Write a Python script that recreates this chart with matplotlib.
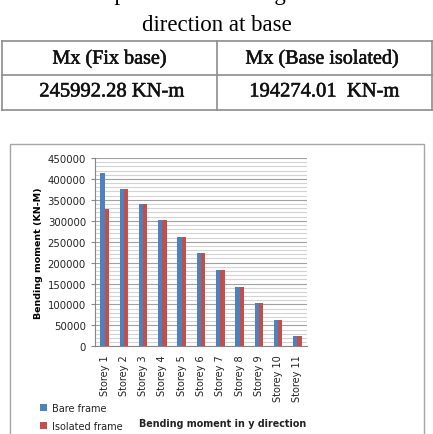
import numpy as np
import matplotlib
matplotlib.use("Agg")
import matplotlib.pyplot as plt
import matplotlib.patheffects as pe
from matplotlib.patches import Rectangle
from matplotlib.lines import Line2D

W, H = 433, 435

storeys = ["Storey 1", "Storey 2", "Storey 3", "Storey 4", "Storey 5", "Storey 6",
           "Storey 7", "Storey 8", "Storey 9", "Storey 10", "Storey 11"]
bare_frame = [414000, 377000, 339000, 301000, 261000, 222000,
              182000, 141000, 103500, 63000, 25000]
isolated_frame = [328000, 377000, 339000, 301000, 261000, 222000,
                  182000, 141000, 103500, 63000, 25000]

table_header = ["Mx (Fix base)", "Mx (Base isolated)"]
table_values = ["245992.28 KN-m", "194274.01  KN-m"]


def fx(px):
    return px / W


def fy(py):
    return 1 - py / H


fig = plt.figure(figsize=(W / 100, H / 100), dpi=100)

# text above the table (previous line is mostly cut off in the source)
fig.text(fx(218), fy(0), "Comparison of bending moment", ha="center", va="baseline",
         family="Liberation Serif", fontsize=16.5)
fig.text(fx(217), fy(31), "direction at base", ha="center", va="baseline",
         family="Liberation Serif", fontsize=16.5)

# table
tcol = "#8c8c8c"
x0, x1, xm = 2, 432, 217
ys = [42, 76, 111]
for y in ys:
    fig.add_artist(Line2D([fx(x0), fx(x1)], [fy(y), fy(y)], color=tcol, lw=1.2))
for x in [x0, xm, x1]:
    fig.add_artist(Line2D([fx(x), fx(x)], [fy(ys[0]), fy(ys[-1])], color=tcol, lw=1.2))
cx = [109.5, 322]
thick = [pe.withStroke(linewidth=0.4, foreground="#111111")]
for i in range(2):
    fig.text(fx(cx[i]), fy(60), table_header[i], ha="center", va="center", color="#111111",
             family="Liberation Serif", fontsize=14.5, path_effects=thick)
    fig.text(fx(cx[i] + 2), fy(93), table_values[i], ha="center", va="center", color="#111111",
             family="Liberation Serif", fontsize=14.8, path_effects=thick)

# chart border
fig.add_artist(Rectangle((fx(10), fy(445)), fx(424) - fx(10), fy(145) - fy(445),
                         transform=fig.transFigure, fill=False, ec="#a6a6a6", lw=1))

ax = fig.add_axes([fx(95), fy(347.3), fx(307) - fx(95), fy(159) - fy(347.3)])
x = np.arange(len(storeys))
w = 0.22
ax.bar(x - w / 2, bare_frame, w, color="#4f81bd", label="Bare frame", zorder=3)
ax.bar(x + w / 2, isolated_frame, w, color="#c0504d", label="Isolated frame", zorder=3)

ax.set_xlim(-0.5, len(storeys) - 0.5)
ax.set_ylim(0, 450000)
ax.set_yticks(np.arange(0, 450001, 50000))
ax.set_yticks(np.arange(0, 450001, 10000), minor=True)
ax.grid(axis="y", which="major", color="#a0a0a0", lw=0.8, zorder=0)
ax.grid(axis="y", which="minor", color="#d3d3d3", lw=0.8, zorder=0)
ax.set_xticks(x)
ax.set_xticklabels(storeys, rotation=90, fontsize=7, color="#222222")
ax.tick_params(axis="y", labelsize=7.3, labelcolor="#222222", length=3, color="#868686", which="major")
ax.tick_params(axis="y", which="minor", length=0)
ax.tick_params(axis="x", length=0, pad=5.5)
for s in ["top", "right"]:
    ax.spines[s].set_visible(False)
for s in ["left", "bottom"]:
    ax.spines[s].set_color("#868686")
ax.set_ylabel("Bending moment (KN-M)", fontsize=6.8, fontweight="bold", labelpad=3)

ax.legend(loc="upper left", bbox_to_anchor=(fx(40), fy(404)), bbox_transform=fig.transFigure,
          frameon=False, fontsize=7, handlelength=0.75, handleheight=0.75,
          handletextpad=0.45, labelspacing=0.85, borderaxespad=0, borderpad=0,
          labelcolor="#222222")
fig.text(fx(223), fy(424), "Bending moment in y direction", ha="center", va="center",
         fontsize=6.9, fontweight="bold", color="#222222")

fig.savefig("out.png", dpi=100)
